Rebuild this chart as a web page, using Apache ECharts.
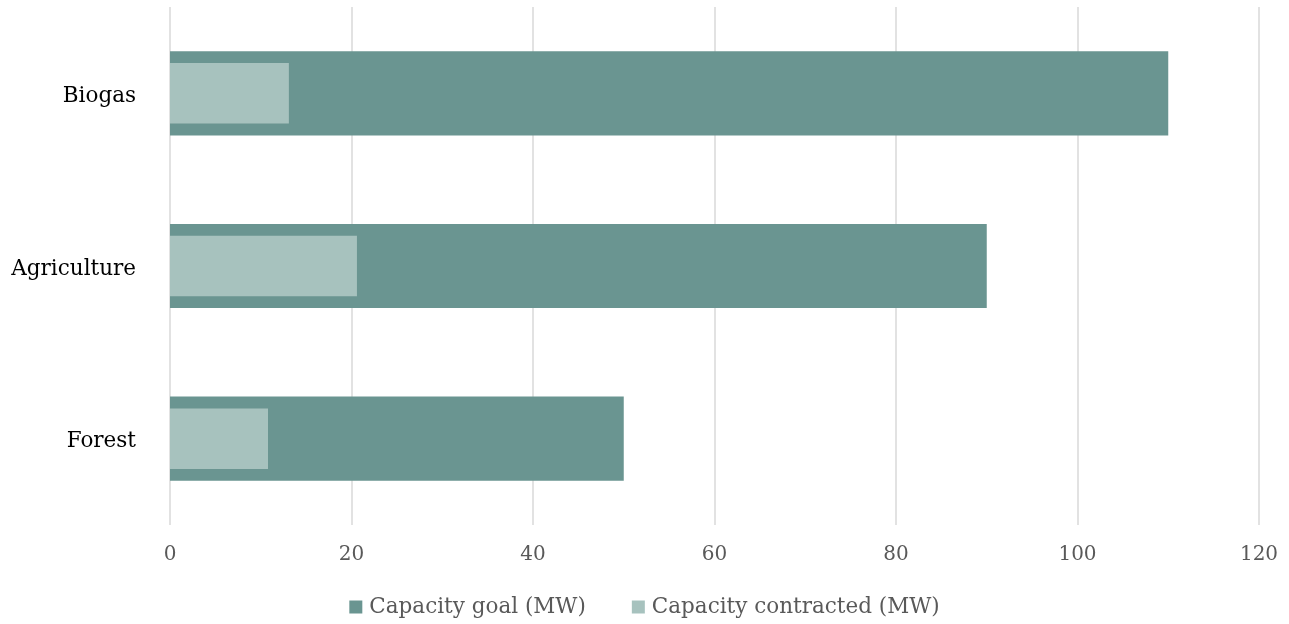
<!DOCTYPE html>
<html>
<head>
<meta charset="utf-8">
<script src="https://cdn.jsdelivr.net/npm/echarts@6/dist/echarts.min.js"></script>
<style>
  html, body { margin: 0; padding: 0; background: #fff; }
  #chart { width: 1289px; height: 624px; }
</style>
</head>
<body>
<div id="chart"></div>
<script>
var categories = ['Forest', 'Agriculture', 'Biogas']
var capacityGoal = [50, 90, 110]
var capacityContracted = [10.8, 20.6, 13.1]
var xTicks = { min: 0, max: 120, interval: 20 }

var font = 'DejaVu Serif'
var chart = echarts.init(document.getElementById('chart'))

chart.setOption({
  animation: false,
  textStyle: { fontFamily: font },
  grid: { left: 170, right: 30, top: 7, bottom: 99 },
  legend: {
    bottom: 1,
    itemWidth: 13,
    itemHeight: 13,
    itemGap: 46,
    icon: 'rect',
    textStyle: { fontFamily: font, fontSize: 21.5, color: '#595959', padding: [0, 0, 0, 2] },
    data: ['Capacity goal (MW)', 'Capacity contracted (MW)']
  },
  xAxis: {
    type: 'value',
    min: xTicks.min,
    max: xTicks.max,
    interval: xTicks.interval,
    axisLine: { show: false },
    axisTick: { show: false },
    axisLabel: { color: '#595959', fontSize: 20, margin: 20, fontFamily: font },
    splitLine: { lineStyle: { color: '#d9d9d9', width: 1.5 } }
  },
  yAxis: [
    {
      type: 'category',
      data: categories,
      axisLine: { show: false },
      axisTick: { show: false },
      axisLabel: {
        color: '#000', fontSize: 21.5, margin: 34, fontFamily: font,
        verticalAlign: 'top', padding: [-8, 0, 0, 0]
      }
    },
    {
      type: 'category',
      data: categories,
      show: false
    }
  ],
  series: [
    {
      name: 'Capacity goal (MW)',
      type: 'bar',
      yAxisIndex: 0,
      barWidth: '48.7%',
      itemStyle: { color: '#6a9591' },
      data: capacityGoal
    },
    {
      name: 'Capacity contracted (MW)',
      type: 'bar',
      yAxisIndex: 1,
      barWidth: '35%',
      itemStyle: { color: '#a7c2be' },
      data: capacityContracted
    }
  ]
})
</script>
</body>
</html>
